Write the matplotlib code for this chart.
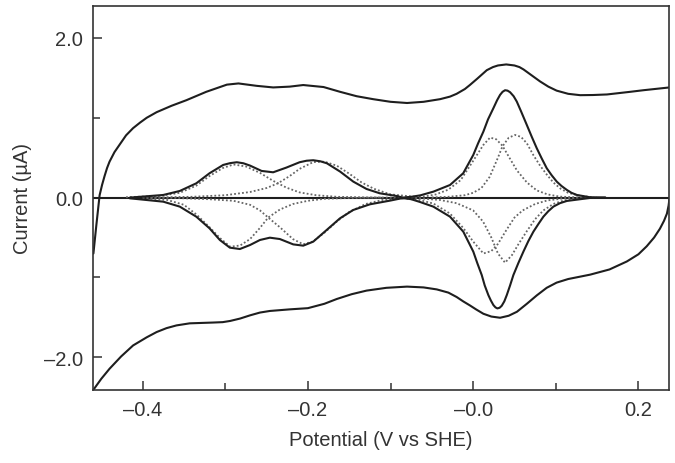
import matplotlib
matplotlib.use("Agg")
import matplotlib.pyplot as plt
from matplotlib.ticker import MultipleLocator, FixedLocator, FixedFormatter

# ---------------- data ----------------
# outer cyclic voltammogram, upper (anodic) branch
outer_up_x = [-0.4595, -0.458, -0.456, -0.454, -0.452, -0.449, -0.446, -0.443, -0.440, -0.434,
              -0.428, -0.420, -0.4115, -0.403, -0.395, -0.383, -0.365, -0.347, -0.323, -0.298,
              -0.284, -0.262, -0.242, -0.222, -0.2056, -0.181, -0.161, -0.141, -0.121, -0.100,
              -0.080, -0.060, -0.040, -0.028, -0.020, -0.010, -0.004, 0.005, 0.0165, 0.024,
              0.030, 0.040, 0.050, 0.056, 0.061, 0.071, 0.081, 0.091, 0.101, 0.115,
              0.1295, 0.145, 0.162, 0.190, 0.206, 0.2376]
outer_up_y = [-0.70, -0.55, -0.35, -0.16, 0.03, 0.16, 0.27, 0.37, 0.45, 0.57,
              0.66, 0.78, 0.87, 0.94, 1.00, 1.07, 1.15, 1.22, 1.325, 1.415,
              1.43, 1.40, 1.38, 1.39, 1.41, 1.385, 1.325, 1.27, 1.233, 1.20,
              1.185, 1.20, 1.233, 1.265, 1.30, 1.36, 1.41, 1.49, 1.596, 1.635,
              1.655, 1.668, 1.655, 1.635, 1.605, 1.53, 1.455, 1.39, 1.34, 1.30,
              1.283, 1.285, 1.292, 1.325, 1.345, 1.38]

# outer cyclic voltammogram, lower (cathodic) branch
outer_dn_x = [-0.459, -0.450, -0.440, -0.426, -0.4115, -0.395, -0.383, -0.371, -0.359, -0.343,
              -0.3146, -0.303, -0.294, -0.282, -0.270, -0.258, -0.246, -0.222, -0.200, -0.180,
              -0.165, -0.147, -0.129, -0.105, -0.080, -0.060, -0.044, -0.030, -0.020, -0.012,
              -0.004, 0.0035, 0.0124, 0.022, 0.0326, 0.043, 0.053, 0.065, 0.077, 0.089,
              0.101, 0.115, 0.1416, 0.165, 0.186, 0.200, 0.210, 0.219, 0.226, 0.231,
              0.2345, 0.2365, 0.2376]
outer_dn_y = [-2.40, -2.27, -2.144, -1.99, -1.852, -1.75, -1.684, -1.635, -1.601, -1.575,
              -1.565, -1.56, -1.545, -1.515, -1.475, -1.44, -1.42, -1.40, -1.385, -1.33,
              -1.27, -1.21, -1.165, -1.13, -1.115, -1.125, -1.15, -1.19, -1.245, -1.30,
              -1.35, -1.40, -1.455, -1.49, -1.505, -1.48, -1.43, -1.33, -1.225, -1.13,
              -1.065, -1.02, -0.965, -0.90, -0.80, -0.71, -0.61, -0.50, -0.39, -0.29,
              -0.20, -0.10, -0.01]

# baseline-subtracted signal, oxidative (upper) solid curve
inner_up_x = [-0.4155, -0.375, -0.355, -0.335, -0.319, -0.3025, -0.294, -0.286, -0.278, -0.270,
              -0.256, -0.242, -0.226, -0.210, -0.2015, -0.1935, -0.185, -0.177, -0.161, -0.145,
              -0.129, -0.113, -0.0925, -0.085, -0.075, -0.064, -0.048, -0.028, -0.012, 0.0002,
              0.006, 0.0124, 0.018, 0.0245, 0.029, 0.0326, 0.0356, 0.0386, 0.0416, 0.0447,
              0.049, 0.0528, 0.058, 0.0649, 0.071, 0.077, 0.083, 0.0891, 0.095, 0.1012,
              0.107, 0.1134, 0.119, 0.1255, 0.1416, 0.16]
inner_up_y = [0.0, 0.033, 0.083, 0.179, 0.305, 0.409, 0.432, 0.443, 0.43, 0.401,
              0.334, 0.317, 0.376, 0.443, 0.462, 0.468, 0.455, 0.430, 0.326, 0.200,
              0.108, 0.054, 0.020, 0.0, 0.010, 0.028, 0.075, 0.158, 0.305, 0.535,
              0.68, 0.827, 0.98, 1.12, 1.22, 1.287, 1.325, 1.345, 1.34, 1.32,
              1.27, 1.203, 1.08, 0.911, 0.76, 0.618, 0.49, 0.367, 0.28, 0.20,
              0.145, 0.096, 0.06, 0.033, 0.004, 0.0]

# baseline-subtracted signal, reductive (lower) solid curve
inner_dn_x = [-0.4155, -0.375, -0.355, -0.335, -0.319, -0.3065, -0.2944, -0.2823, -0.270, -0.258,
              -0.246, -0.2339, -0.2177, -0.2056, -0.1935, -0.1773, -0.1612, -0.1451, -0.1249, -0.1006,
              -0.085, -0.075, -0.0643, -0.0482, -0.028, -0.0119, 0.0002, 0.005, 0.0104, 0.014,
              0.0184, 0.0215, 0.0245, 0.027, 0.0293, 0.032, 0.0346, 0.0377, 0.0407, 0.0447,
              0.0487, 0.0547, 0.0608, 0.0668, 0.0729, 0.079, 0.085, 0.091, 0.0971, 0.105,
              0.1134, 0.1416, 0.16]
inner_dn_y = [-0.009, -0.051, -0.113, -0.239, -0.385, -0.531, -0.627, -0.644, -0.594, -0.531,
              -0.502, -0.519, -0.586, -0.602, -0.552, -0.406, -0.260, -0.155, -0.084, -0.038,
              -0.005, -0.020, -0.055, -0.113, -0.239, -0.427, -0.677, -0.82, -0.97, -1.10,
              -1.221, -1.29, -1.346, -1.375, -1.388, -1.38, -1.355, -1.30, -1.221, -1.10,
              -0.97, -0.82, -0.677, -0.545, -0.427, -0.33, -0.239, -0.17, -0.113, -0.07,
              -0.042, -0.004, 0.0]

# fitted components (dotted)
peakA_x = [-0.42, -0.38, -0.355, -0.335, -0.319, -0.303, -0.290, -0.275, -0.258, -0.242,
           -0.226, -0.210, -0.190, -0.165, -0.130, -0.090]
peakA_y = [0.005, 0.02, 0.06, 0.15, 0.27, 0.37, 0.415, 0.39, 0.31, 0.21,
           0.125, 0.065, 0.03, 0.01, 0.003, 0.0]
peakB_x = [-0.39, -0.34, -0.30, -0.27, -0.25, -0.236, -0.222, -0.210, -0.1935, -0.180,
           -0.165, -0.150, -0.135, -0.120, -0.100, -0.070]
peakB_y = [0.002, 0.01, 0.03, 0.07, 0.12, 0.18, 0.27, 0.36, 0.445, 0.45,
           0.40, 0.30, 0.19, 0.11, 0.04, 0.01]
peakC_x = [-0.40, -0.37, -0.35, -0.335, -0.320, -0.306, -0.294, -0.282, -0.270, -0.258,
           -0.248, -0.234, -0.218, -0.200, -0.180, -0.150, -0.110]
peakC_y = [-0.005, -0.03, -0.09, -0.21, -0.36, -0.51, -0.615, -0.60, -0.52, -0.38,
           -0.25, -0.15, -0.08, -0.04, -0.015, -0.005, 0.0]
peakD_x = [-0.40, -0.36, -0.32, -0.29, -0.270, -0.258, -0.248, -0.234, -0.218, -0.2056,
           -0.194, -0.180, -0.165, -0.150, -0.130, -0.110, -0.080]
peakD_y = [0.0, -0.005, -0.02, -0.04, -0.09, -0.16, -0.25, -0.37, -0.52, -0.585,
           -0.55, -0.44, -0.30, -0.18, -0.08, -0.03, -0.008]
peakE_x = [-0.08, -0.06, -0.045, -0.03, -0.015, 0.0, 0.0124, 0.0205, 0.028, 0.0354,
           0.045, 0.053, 0.065, 0.077, 0.090, 0.105, 0.130]
peakE_y = [0.003, 0.012, 0.04, 0.10, 0.22, 0.46, 0.66, 0.752, 0.73, 0.65,
           0.48, 0.34, 0.19, 0.09, 0.04, 0.012, 0.002]
peakF_x = [-0.05, -0.03, -0.01, 0.0, 0.01, 0.02, 0.03, 0.0354, 0.043, 0.0507,
           0.058, 0.065, 0.073, 0.081, 0.089, 0.097, 0.106, 0.115, 0.130, 0.145]
peakF_y = [0.003, 0.01, 0.03, 0.06, 0.12, 0.26, 0.50, 0.64, 0.75, 0.785,
           0.76, 0.68, 0.53, 0.40, 0.29, 0.19, 0.11, 0.06, 0.02, 0.005]
peakG_x = [-0.09, -0.065, -0.048, -0.028, -0.012, 0.0, 0.0124, 0.022, 0.030, 0.040,
           0.050, 0.060, 0.075, 0.090, 0.110, 0.130]
peakG_y = [-0.005, -0.03, -0.075, -0.20, -0.38, -0.55, -0.70, -0.67, -0.58, -0.41,
           -0.25, -0.16, -0.08, -0.035, -0.01, -0.002]
peakH_x = [-0.07, -0.04, -0.02, 0.0, 0.012, 0.022, 0.030, 0.0386, 0.047, 0.055,
           0.065, 0.075, 0.085, 0.097, 0.110, 0.130, 0.150]
peakH_y = [-0.005, -0.03, -0.07, -0.16, -0.30, -0.50, -0.70, -0.815, -0.72, -0.58,
           -0.42, -0.27, -0.16, -0.08, -0.035, -0.008, 0.0]

x_ticks = [-0.4, -0.2, 0.0, 0.2]
x_tick_labels = ['\u20130.4', '\u20130.2', '\u20130.0', '0.2']
y_ticks = [-2.0, 0.0, 2.0]
y_tick_labels = ['\u20132.0', '0.0', '2.0']

# ---------------- figure ----------------
plt.rcParams['font.family'] = ['Liberation Sans', 'DejaVu Sans']
fig = plt.figure(figsize=(6.75, 4.64), dpi=100)
ax = fig.add_axes([93 / 675, (464 - 391) / 464, (669 - 93) / 675, (391 - 7) / 464])

solid = dict(color='#1e1e1e', lw=1.5, solid_capstyle='round', solid_joinstyle='round')
dotted = dict(color='#666666', lw=1.3, linestyle=(0, (1, 1.2)))

ax.axhline(0.0, color='#1e1e1e', lw=1.5)
for xs, ys in [(peakA_x, peakA_y), (peakB_x, peakB_y), (peakC_x, peakC_y), (peakD_x, peakD_y),
               (peakE_x, peakE_y), (peakF_x, peakF_y), (peakG_x, peakG_y), (peakH_x, peakH_y)]:
    ax.plot(xs, ys, **dotted)
ax.plot(outer_up_x, outer_up_y, **solid)
ax.plot(outer_dn_x, outer_dn_y, **solid)
ax.plot(inner_up_x, inner_up_y, **solid)
ax.plot(inner_dn_x, inner_dn_y, **solid)

ax.set_xlim(-0.46, 0.237)
ax.set_ylim(-2.41, 2.40)

ax.xaxis.set_major_locator(FixedLocator(x_ticks))
ax.xaxis.set_major_formatter(FixedFormatter(x_tick_labels))
ax.xaxis.set_minor_locator(MultipleLocator(0.1))
ax.yaxis.set_major_locator(FixedLocator(y_ticks))
ax.yaxis.set_major_formatter(FixedFormatter(y_tick_labels))
ax.yaxis.set_minor_locator(MultipleLocator(1.0))

ax.tick_params(which='both', direction='in', top=False, right=False,
               colors='#333333', labelsize=14.5, width=1.1)
ax.tick_params(which='major', length=6.5, pad=7)
ax.tick_params(which='minor', length=5)
for s in ax.spines.values():
    s.set_linewidth(1.2)
    s.set_color('#333333')

ax.set_xlabel('Potential (V vs SHE)', fontsize=14.5, color='#333333', labelpad=8)
ax.set_ylabel('Current (\u00b5A)', fontsize=14.5, color='#333333', labelpad=9)

fig.savefig('out.png', dpi=100)
